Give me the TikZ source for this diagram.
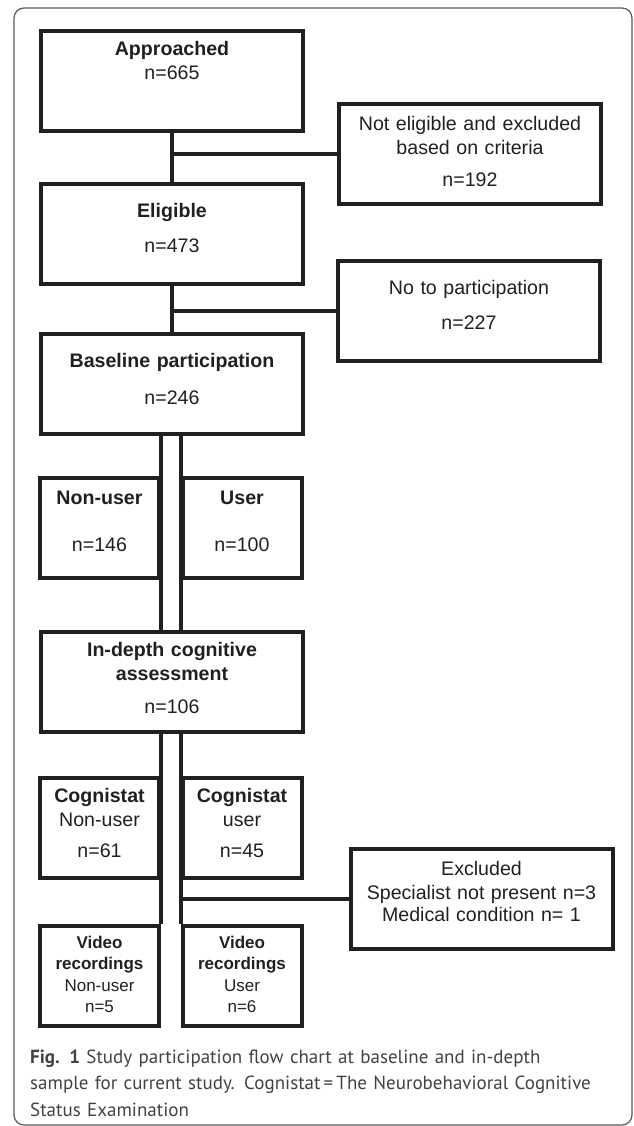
\documentclass[tikz,border=0pt]{standalone}
\usepackage{fontspec}
\setmainfont{Liberation Sans}
\newfontfamily\capfont{PT Sans}
\usepackage{xcolor}
\definecolor{ink}{HTML}{231F20}

\begin{document}
\begin{tikzpicture}[x=1pt, y=-1pt,
  box/.style={draw=ink, line width=4pt, inner sep=0pt, anchor=north,
    align=center, text=ink, font=\fontsize{19.6}{24}\selectfont},
  wide/.style={text width=262pt},
  narrow/.style={text width=119pt},
  toppad/.style={text height=#1pt, text depth={100pt-#1pt}},
  link/.style={draw=ink, line width=4pt}]
  % page and outer frame
  \useasboundingbox (0,0) rectangle (633,1126);
  \draw[ink!75, line width=1.2pt, rounded corners=10pt] (14,8) rectangle (632,1125);

  % main column
  \node[box, wide, toppad=25] (appr) at (172,29) {\textbf{Approached}\\n=665};
  \node[box, wide, toppad=33] (elig) at (172,182) {\textbf{Eligible}\\[11pt]n=473};
  \node[box, wide, toppad=33] (base) at (172,332) {\textbf{Baseline participation}\\[13pt]n=246};
  \node[box, wide, toppad=24] (indepth) at (172,630)
    {\textbf{In-depth cognitive}\\\textbf{assessment}\\[9pt]n=106};

  % drop-outs on the right
  \node[box, wide, toppad=27] (notel) at (470,102)
    {Not eligible and excluded\\based on criteria\\[8pt]n=192};
  \node[box, wide, toppad=33] (nopart) at (469,259) {No to participation\\[11pt]n=227};
  \node[box, wide, toppad=26] (excl) at (481.5,847)
    {Excluded\\Specialist not present n=3\\[-2pt]Medical condition n= 1};

  % user groups
  \node[box, narrow, toppad=26] (nonuser) at (99.5,476) {\textbf{Non-user}\\[23pt]n=146};
  \node[box, narrow, toppad=26] (user) at (242,476) {\textbf{User}\\[23pt]n=100};
  \node[box, narrow, toppad=24] (cognon) at (99.5,776) {\textbf{Cognistat}\\Non-user\\[7pt]n=61};
  \node[box, narrow, toppad=24] (coguser) at (242,776) {\textbf{Cognistat}\\user\\[7pt]n=45};
  \node[box, narrow, toppad=22, font=\fontsize{17}{21.5}\selectfont] (vidnon) at (99.5,924)
    {\textbf{Video}\\\textbf{recordings}\\Non-user\\n=5};
  \node[box, narrow, toppad=22, font=\fontsize{17}{21.5}\selectfont] (viduser) at (242,924)
    {\textbf{Video}\\\textbf{recordings}\\User\\n=6};

  % connectors
  \draw[link] (appr.south) -- (elig.north);
  \draw[link] (notel.west) -- (notel.west -| appr.south);
  \draw[link] (elig.south) -- (base.north);
  \draw[link] (nopart.west) -- (nopart.west -| elig.south);
  \draw[link] (base.south -| nonuser.east) -- (indepth.north -| nonuser.east);
  \draw[link] (base.south -| user.west) -- (indepth.north -| user.west);
  \draw[link] (indepth.south -| cognon.east) -- (vidnon.north -| cognon.east);
  \draw[link] (indepth.south -| coguser.west) -- (viduser.north -| coguser.west);
  \draw[link] (excl.west) -- (excl.west -| coguser.west);

  % caption
  \node[anchor=base west, text width=700pt, align=left, inner sep=0pt, text=ink!85,
    font=\capfont\fontsize{19}{26.5}\selectfont] (cap) at (30,1063)
    {\textbf{Fig. 1} Study participation flow chart at baseline and in-depth\\
     sample for current study. Cognistat\,=\,The Neurobehavioral Cognitive\\
     Status Examination};
\end{tikzpicture}
\end{document}
